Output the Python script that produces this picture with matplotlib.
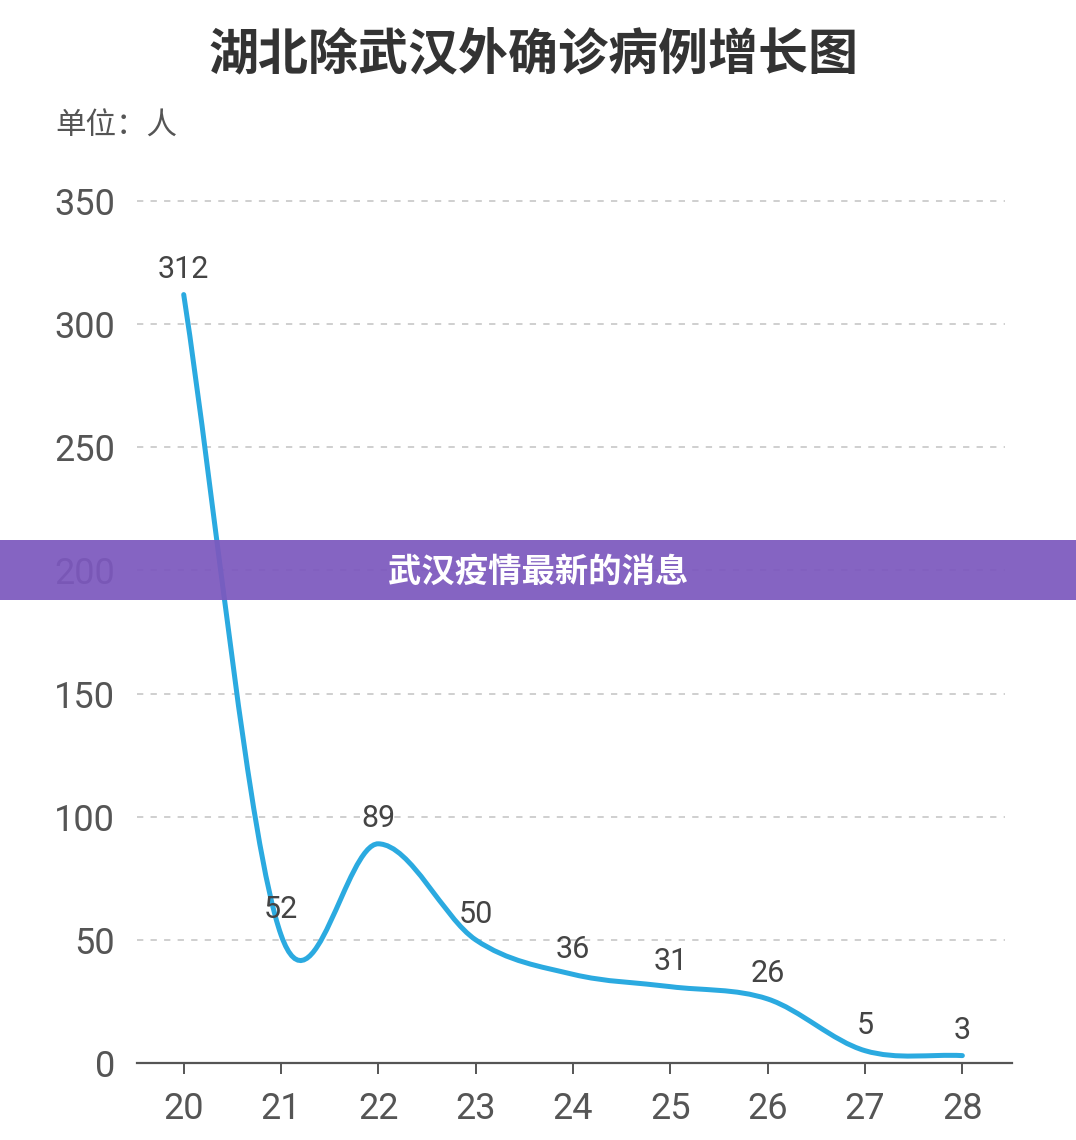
import matplotlib
matplotlib.use("Agg")
import matplotlib.pyplot as plt
from matplotlib.path import Path
from matplotlib.patches import PathPatch, Rectangle

plt.rcParams['font.family'] = ['Noto Sans CJK SC', 'DejaVu Sans']

days = [20, 21, 22, 23, 24, 25, 26, 27, 28]
cases = [312, 52, 89, 50, 36, 31, 26, 5, 3]
yticks = [0, 50, 100, 150, 200, 250, 300, 350]
title = "湖北除武汉外确诊病例增长图"
unit = "单位：人"
banner = "武汉疫情最新的消息"

W, H = 1076, 1140
fig = plt.figure(figsize=(W / 100, H / 100), dpi=100)
ax = fig.add_axes([137 / W, 1 - 1063 / H, (1012 - 137) / W, (1063 - 201) / H])
ax.set_xlim(19.52, 28.51)
ax.set_ylim(0, 350)

# smooth curve through the points (cardinal spline as cubic Bezier path)
n = len(days)
verts = [(days[0], cases[0])]
codes = [Path.MOVETO]
for i in range(n - 1):
    p0 = (days[i - 1], cases[i - 1]) if i > 0 else (days[i], cases[i])
    p1 = (days[i], cases[i])
    p2 = (days[i + 1], cases[i + 1])
    p3 = (days[i + 2], cases[i + 2]) if i + 2 < n else p2
    f0 = 6.0 if i > 0 else 3.0
    f1 = 6.0 if i + 2 < n else 3.0
    c1 = (p1[0] + (p2[0] - p0[0]) / f0, p1[1] + (p2[1] - p0[1]) / f0)
    c2 = (p2[0] - (p3[0] - p1[0]) / f1, p2[1] - (p3[1] - p1[1]) / f1)
    verts += [c1, c2, p2]
    codes += [Path.CURVE4] * 3
ax.add_patch(PathPatch(Path(verts, codes), facecolor='none', edgecolor='#2BAAE0',
                       lw=3.6, capstyle='round', zorder=3, clip_on=False))

for x, y in zip(days, cases):
    ax.annotate(str(y), (x, y), xytext=(0, 18), textcoords='offset points',
                ha='center', va='center', fontsize=22, color='#444444',
                family=['Roboto', 'DejaVu Sans'], zorder=4)

for s in ['left', 'right', 'top']:
    ax.spines[s].set_visible(False)
ax.spines['bottom'].set_color('#555555')
ax.spines['bottom'].set_linewidth(1.6)

ax.set_yticks(yticks)
ax.set_xticks(days)
ax.tick_params(axis='y', length=0, pad=16, labelsize=26, labelcolor='#555555')
ax.tick_params(axis='x', length=8, width=1.4, color='#555555', pad=12,
               labelsize=26, labelcolor='#555555')
for lab in ax.get_xticklabels() + ax.get_yticklabels():
    lab.set_family(['Roboto', 'DejaVu Sans'])

for yv in yticks[1:]:
    ax.plot([19.52, 28.44], [yv, yv], color='#CCCCCC', lw=1.3,
            dashes=(3.5, 4), zorder=1, clip_on=False)

fig.text(533 / W, 1 - 56 / H, title, ha='center', va='center', fontsize=36,
         fontweight='bold', color='#333333')
fig.text(55 / W, 1 - 126 / H, unit, ha='left', va='center', fontsize=22,
         color='#555555')

fig.add_artist(Rectangle((0, 1 - 600 / H), 1, 60 / H, transform=fig.transFigure,
                         facecolor='#7C58BE', alpha=0.93, edgecolor='none', zorder=10))
fig.text(538 / W, 1 - 572 / H, banner, ha='center', va='center', fontsize=24,
         fontweight='bold', color='white', zorder=11)

fig.savefig('out.png', dpi=100, facecolor='white')
